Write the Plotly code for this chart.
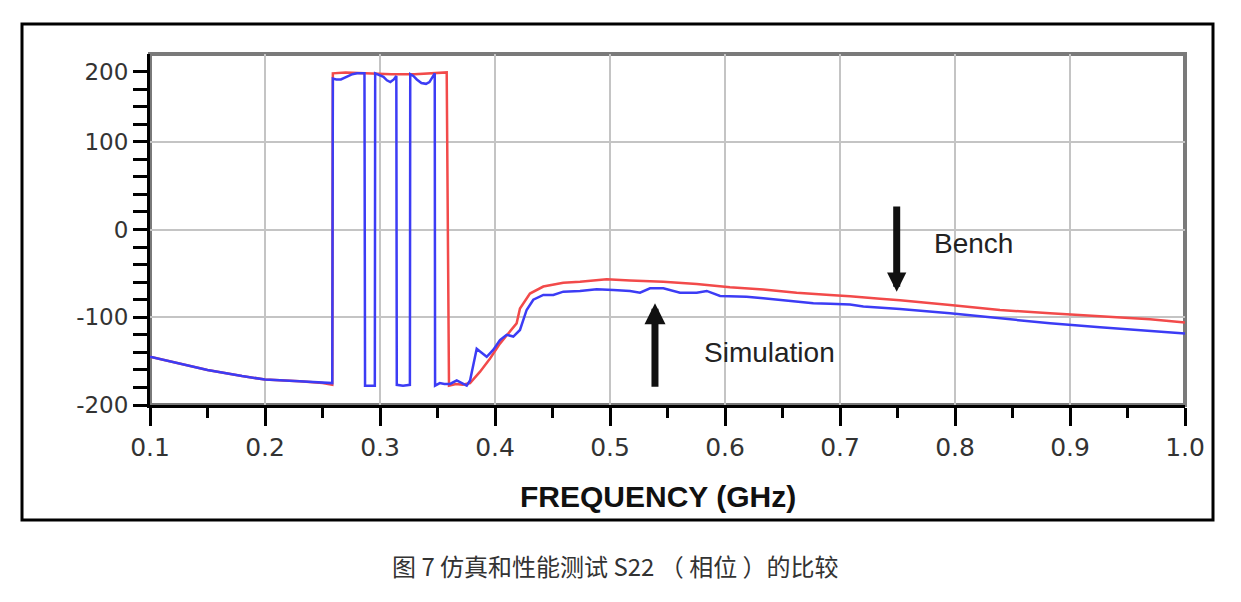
import plotly.graph_objects as go

# ---------------- data ----------------
bench_f = [0.100, 0.130, 0.150, 0.180, 0.200, 0.230, 0.250, 0.2585,
           0.2590, 0.270, 0.290, 0.310, 0.330, 0.350, 0.3580,
           0.3600, 0.366, 0.372, 0.3783, 0.387, 0.3957, 0.4043, 0.4188,
           0.4217, 0.4304, 0.442, 0.4594, 0.4739, 0.4971, 0.5174, 0.5464,
           0.5754, 0.6043, 0.6333, 0.6623, 0.6913, 0.7087, 0.7348, 0.7522,
           0.7957, 0.8391, 0.8826, 0.9261, 0.9696, 1.000]
bench_v = [-145, -154, -160, -167, -171, -173, -175, -177,
           178, 179, 178, 177, 177, 178, 179,
           -178, -176, -177, -175, -162, -147, -130, -107,
           -90, -73, -65, -60.6, -59.5, -56.8, -58, -59.5,
           -62, -65.9, -68.4, -72, -74.6, -76, -79, -80.5,
           -86, -91.7, -95.5, -98.6, -102.4, -106]

sim_f = [0.100, 0.130, 0.150, 0.180, 0.200, 0.230, 0.250, 0.2585,
         0.2590, 0.262, 0.266, 0.271, 0.276, 0.280, 0.2865,
         0.2870, 0.2955,
         0.2958, 0.300, 0.303, 0.306, 0.309, 0.312, 0.3142,
         0.3146, 0.320, 0.3260,
         0.3263, 0.329, 0.332, 0.336, 0.340, 0.343, 0.346, 0.3476,
         0.3479, 0.352, 0.356, 0.361, 0.3667, 0.3754, 0.3783,
         0.3841, 0.387, 0.3928, 0.3986, 0.4043, 0.4101, 0.4159, 0.4217,
         0.4275, 0.4333, 0.442, 0.4507, 0.4594, 0.4739, 0.4884, 0.5029,
         0.5174, 0.5261, 0.5348, 0.5464, 0.5609, 0.5754, 0.5841, 0.5957,
         0.6043, 0.6188, 0.6333, 0.6478, 0.6623, 0.6768, 0.6913, 0.7087,
         0.7203, 0.7348, 0.7522, 0.7957, 0.8391, 0.8826, 0.9261, 0.9696,
         1.000]
sim_v = [-145, -154, -160, -167, -171, -173, -174, -175,
         172, 171, 171, 174, 177, 178, 178,
         -178, -178,
         178, 176, 174, 170, 168, 171, 175,
         -177, -178, -177,
         177, 175, 171, 167, 166, 168, 175, 178,
         -178, -175, -176, -176, -172, -178, -172,
         -136, -139, -145, -137, -126, -120, -122, -114.5,
         -91.7, -80, -74.6, -74.6, -70.8, -70, -68, -69,
         -70, -72, -67, -67, -72, -72, -70, -75.8,
         -76, -76.6, -78.4, -80, -82.2, -84, -84.5, -85.5,
         -87.7, -89, -90.5, -95.5, -101.2, -106.9, -111.5, -115.3,
         -118.5]

x_ticks = [0.1, 0.2, 0.3, 0.4, 0.5, 0.6, 0.7, 0.8, 0.9, 1.0]
x_tick_labels = ["0.1", "0.2", "0.3", "0.4", "0.5", "0.6", "0.7", "0.8", "0.9", "1.0"]
y_ticks = [-200, -180, -160, -140, -120, -100, -80, -60, -40, -20, 0,
           20, 40, 60, 80, 100, 120, 140, 160, 180]
y_tick_labels = ["-200", "", "", "", "", "-100", "", "", "", "", "0",
                 "", "", "", "", "100", "", "", "", "200"]
y_grid = [-100, 0, 100]

# ---------------- figure ----------------
fig = go.Figure()
fig.add_trace(go.Scatter(x=bench_f, y=bench_v, mode="lines", name="Bench",
                         line=dict(color="#f24a4a", width=2.5), showlegend=False))
fig.add_trace(go.Scatter(x=sim_f, y=sim_v, mode="lines", name="Simulation",
                         line=dict(color="#3c3cf5", width=2.5), showlegend=False))

tickfont = dict(family="DejaVu Sans", size=25, color="#333333")

# page has an 8px body margin, so the figure is a little smaller
W, H = 1233, 594
L, R, T, B = 142, 56, 46, 197
PW = W - L - R
PH = H - T - B

fig.update_layout(
    width=W, height=H,
    margin=dict(l=L, r=R, t=T, b=B),
    paper_bgcolor="white", plot_bgcolor="white",
    showlegend=False,
    xaxis=dict(
        range=[0.1, 1.0], tickvals=x_ticks, ticktext=x_tick_labels,
        showgrid=True, gridcolor="#c4c4c4", gridwidth=2,
        showline=True, linecolor="black", linewidth=3,
        ticks="outside", ticklen=18, tickwidth=3, tickcolor="black",
        tickfont=tickfont, zeroline=False,
        minor=dict(dtick=0.05, tick0=0.1, ticks="outside", ticklen=10,
                   tickwidth=3, tickcolor="black", showgrid=False),
    ),
    yaxis=dict(
        range=[-200, 200], tickvals=y_ticks, ticktext=y_tick_labels,
        showgrid=False,
        showline=True, linecolor="black", linewidth=3,
        ticks="outside", ticklen=14, tickwidth=3, tickcolor="black",
        tickfont=dict(family="DejaVu Sans", size=23, color="#333333"),
        zeroline=False,
        minor=dict(tickvals=y_grid, showgrid=True, gridcolor="#c4c4c4",
                   gridwidth=2, ticks=""),
    ),
)

# gray frame around the plot area and the outer black box
fig.add_shape(type="rect", xref="paper", yref="paper", x0=0, x1=1, y0=0, y1=1,
              line=dict(color="#7a7a7a", width=4), layer="below")
fig.add_shape(type="rect", xref="paper", yref="paper",
              x0=(22 - 150) / PW, x1=(1213 - 150) / PW,
              y0=-(520 - 405) / PH, y1=1 + (54 - 24) / PH,
              line=dict(color="black", width=3), layer="above")

# x-axis title
fig.add_annotation(x=(658 - 150) / PW, y=-(496 - 405) / PH, xref="paper", yref="paper",
                   xanchor="center", yanchor="middle",
                   text="<b>FREQUENCY (GHz)</b>", showarrow=False,
                   font=dict(family="Liberation Sans", size=30, color="#111111"))

# arrows and labels
fig.add_annotation(x=0.7493, y=-71, ax=0.7493, ay=28, xref="x", yref="y",
                   axref="x", ayref="y", text="", showarrow=True,
                   arrowhead=2, arrowsize=0.55, arrowwidth=7, arrowcolor="#111111")
fig.add_annotation(x=0.5391, y=-84, ax=0.5391, ay=-181, xref="x", yref="y",
                   axref="x", ayref="y", text="", showarrow=True,
                   arrowhead=2, arrowsize=0.6, arrowwidth=7, arrowcolor="#111111")
fig.add_annotation(x=0.8157, y=-16.5, xref="x", yref="y", text="Bench",
                   showarrow=False, xanchor="center", yanchor="middle",
                   font=dict(family="Liberation Sans", size=28, color="#222222"))
fig.add_annotation(x=0.639, y=-139.6, xref="x", yref="y", text="Simulation",
                   showarrow=False, xanchor="center", yanchor="middle",
                   font=dict(family="Liberation Sans", size=28, color="#222222"))

# caption
fig.add_annotation(x=(615 - 150) / PW, y=-(565 - 405) / PH, xref="paper", yref="paper",
                   xanchor="center", yanchor="middle",
                   text="图 7 仿真和性能测试 S22 （ 相位 ）的比较", showarrow=False,
                   font=dict(family="Noto Sans CJK SC", size=24, color="#333333"))

fig.write_html("out.html")
